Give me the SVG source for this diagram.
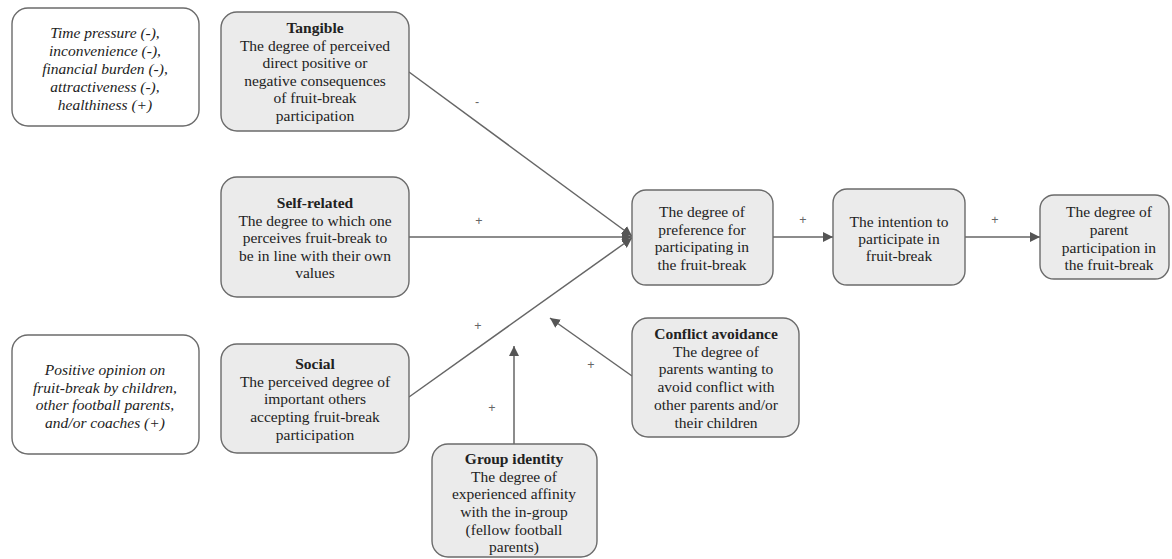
<svg xmlns="http://www.w3.org/2000/svg" width="1172" height="559" viewBox="0 0 1172 559">
<style>
.box{fill:#ebebeb;stroke:#6b6b6b;stroke-width:1.4}
.wbox{fill:#ffffff;stroke:#6b6b6b;stroke-width:1.4}
.t{font-family:'Liberation Serif','DejaVu Serif',serif;font-size:15.5px;fill:#222;text-anchor:middle}
.b{font-weight:bold}
.i{font-style:italic}
.lbl{font-family:'Liberation Sans','DejaVu Sans',sans-serif;font-size:12.5px;fill:#666;text-anchor:middle}
.edge{stroke:#666;stroke-width:1.5;fill:none}
</style>
<defs>
<marker id="ah2" viewBox="0 0 10 10" refX="10" refY="5" markerWidth="10" markerHeight="10" markerUnits="userSpaceOnUse" orient="auto">
<path d="M0,0 L10,5 L0,10 z" fill="#555"/>
</marker>
</defs>
<rect width="1172" height="559" fill="#fff"/>
<g id="connectors">
<line class="edge" x1="409" y1="72" x2="632" y2="236" marker-end="url(#ah2)"/>
<line class="edge" x1="409" y1="237" x2="632" y2="237" marker-end="url(#ah2)"/>
<line class="edge" x1="409" y1="397" x2="632" y2="238" marker-end="url(#ah2)"/>
<line class="edge" x1="773" y1="237" x2="833" y2="237" marker-end="url(#ah2)"/>
<line class="edge" x1="965" y1="237" x2="1040" y2="237" marker-end="url(#ah2)"/>
<line class="edge" x1="632" y1="376" x2="550" y2="318" marker-end="url(#ah2)"/>
<line class="edge" x1="514" y1="444" x2="514" y2="346" marker-end="url(#ah2)"/>
<text class="lbl" x="477" y="106">-</text>
<text class="lbl" x="479" y="225">+</text>
<text class="lbl" x="478" y="330">+</text>
<text class="lbl" x="803" y="224">+</text>
<text class="lbl" x="995" y="224">+</text>
<text class="lbl" x="591" y="369">+</text>
<text class="lbl" x="492" y="412">+</text>
</g>
<g id="factors1">
<rect class="wbox" x="12" y="8" width="187" height="118" rx="16"/>
<text class="t i" x="105" y="38">Time pressure (-),</text>
<text class="t i" x="105" y="56">inconvenience (-),</text>
<text class="t i" x="105" y="74">financial burden (-),</text>
<text class="t i" x="105" y="92">attractiveness (-),</text>
<text class="t i" x="105" y="110">healthiness (+)</text>
</g>
<g id="factors2">
<rect class="wbox" x="12" y="335" width="187" height="119" rx="16"/>
<text class="t i" x="105" y="375">Positive opinion on</text>
<text class="t i" x="105" y="392.5">fruit-break by children,</text>
<text class="t i" x="105" y="410">other football parents,</text>
<text class="t i" x="105" y="427.5">and/or coaches (+)</text>
</g>
<g id="tangible">
<rect class="box" x="221" y="12" width="188" height="119" rx="16"/>
<text class="t b" x="315" y="33">Tangible</text>
<text class="t" x="315" y="51">The degree of perceived</text>
<text class="t" x="315" y="68">direct positive or</text>
<text class="t" x="315" y="86">negative consequences</text>
<text class="t" x="315" y="103">of fruit-break</text>
<text class="t" x="315" y="121">participation</text>
</g>
<g id="self-related">
<rect class="box" x="221" y="177" width="188" height="120" rx="16"/>
<text class="t b" x="315" y="208">Self-related</text>
<text class="t" x="315" y="225.5">The degree to which one</text>
<text class="t" x="315" y="243">perceives fruit-break to</text>
<text class="t" x="315" y="260.5">be in line with their own</text>
<text class="t" x="315" y="278">values</text>
</g>
<g id="social">
<rect class="box" x="221" y="344" width="188" height="109" rx="16"/>
<text class="t b" x="315" y="369">Social</text>
<text class="t" x="315" y="387">The perceived degree of</text>
<text class="t" x="315" y="404">important others</text>
<text class="t" x="315" y="422">accepting fruit-break</text>
<text class="t" x="315" y="440">participation</text>
</g>
<g id="preference">
<rect class="box" x="632" y="190" width="141" height="95" rx="14"/>
<text class="t" x="702" y="217">The degree of</text>
<text class="t" x="702" y="235">preference for</text>
<text class="t" x="702" y="252">participating in</text>
<text class="t" x="702" y="270">the fruit-break</text>
</g>
<g id="intention">
<rect class="box" x="833" y="189" width="132" height="96" rx="14"/>
<text class="t" x="899" y="227">The intention to</text>
<text class="t" x="899" y="244">participate in</text>
<text class="t" x="899" y="261">fruit-break</text>
</g>
<g id="participation">
<rect class="box" x="1040" y="195" width="129" height="84" rx="14"/>
<text class="t" x="1109" y="217">The degree of</text>
<text class="t" x="1109" y="235">parent</text>
<text class="t" x="1109" y="253">participation in</text>
<text class="t" x="1109" y="270">the fruit-break</text>
</g>
<g id="conflict-avoidance">
<rect class="box" x="632" y="318" width="167" height="119" rx="16"/>
<text class="t b" x="716" y="339">Conflict avoidance</text>
<text class="t" x="716" y="357">The degree of</text>
<text class="t" x="716" y="374">parents wanting to</text>
<text class="t" x="716" y="392">avoid conflict with</text>
<text class="t" x="716" y="410">other parents and/or</text>
<text class="t" x="716" y="428">their children</text>
</g>
<g id="group-identity">
<rect class="box" x="432" y="444" width="165" height="113" rx="16"/>
<text class="t b" x="514" y="464">Group identity</text>
<text class="t" x="514" y="482">The degree of</text>
<text class="t" x="514" y="499">experienced affinity</text>
<text class="t" x="514" y="517">with the in-group</text>
<text class="t" x="514" y="535">(fellow football</text>
<text class="t" x="514" y="552">parents)</text>
</g>
</svg>
